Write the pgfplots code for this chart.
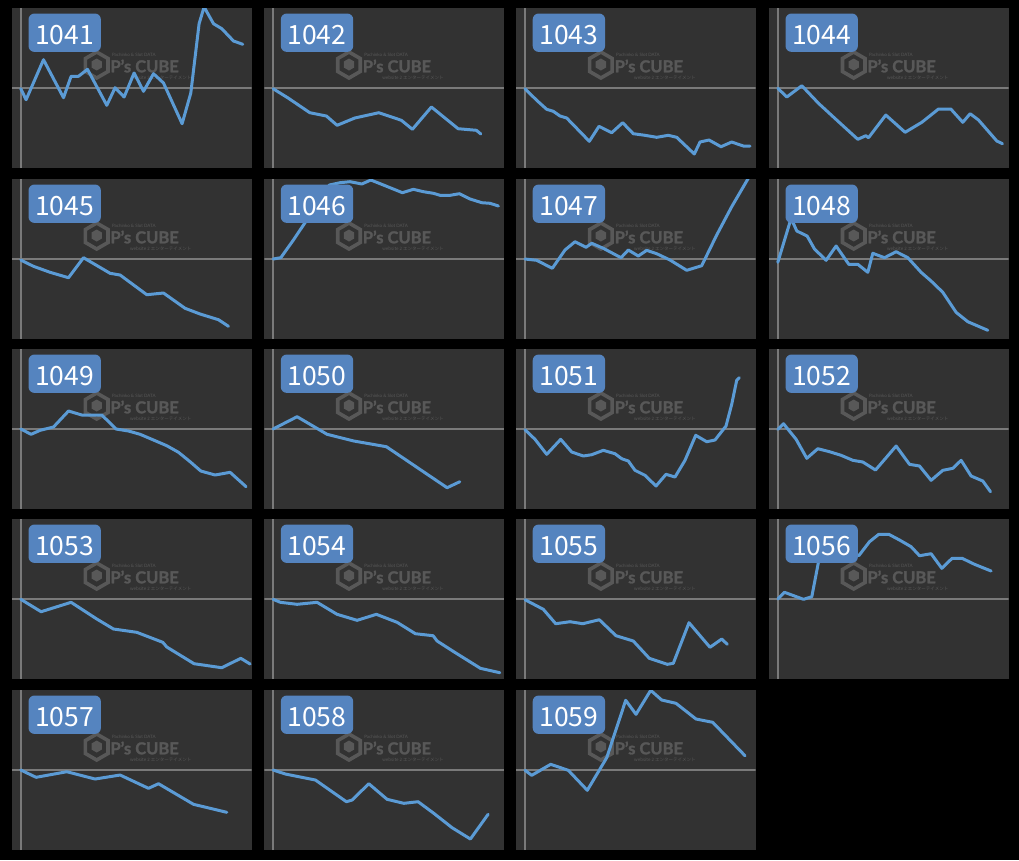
\documentclass[border=0pt]{standalone}
\usepackage{fontspec}
\usepackage{pgfplots}
\pgfplotsset{compat=1.18}
\usetikzlibrary{shapes.geometric}
\newfontfamily\badgefont{Noto Sans CJK JP}
\newfontfamily\wmfont{Lato}
\newfontfamily\wmheavy{Lato}[FakeBold=1.6]
\definecolor{panelbg}{HTML}{323232}
\definecolor{basecol}{HTML}{7A7A7A}
\definecolor{linecol}{HTML}{5B9BD5}
\definecolor{badgecol}{HTML}{5584BF}
\definecolor{wmcol}{HTML}{585858}
\newcommand{\panel}[4]{%
\begin{axis}[at={(#1pt,-#2pt)},anchor=north west,
  width=239.5pt,height=160pt,scale only axis,
  xmin=-8.8,xmax=230.7,ymin=-80,ymax=80,
  axis line style={draw=none},ticks=none,
  axis background/.style={fill=panelbg},clip=true]
\draw[basecol,line width=1.6pt] (axis cs:-8.8,0) -- (axis cs:230.7,0);
\draw[basecol,line width=1.6pt] (axis cs:0,-80) -- (axis cs:0,80);
\node[regular polygon,regular polygon sides=6,shape border rotate=30,draw=wmcol,line width=3.6pt,minimum size=26pt,inner sep=0pt] at (axis cs:75.9,23) {};
\node[regular polygon,regular polygon sides=6,shape border rotate=30,fill=wmcol,minimum size=12pt,inner sep=0pt] at (axis cs:75.9,23.5) {};
\node[anchor=west,inner sep=0pt,text=wmcol] at (axis cs:89.5,22) {\wmheavy\bfseries\fontsize{16.5}{16.5}\selectfont P’s CUBE};
\node[anchor=west,inner sep=0pt,text=wmcol] at (axis cs:91,33) {\wmfont\fontsize{4.5}{4.5}\selectfont Pachinko \& Slot DATA};
\node[anchor=west,inner sep=0pt,text=wmcol] at (axis cs:109,10.7) {\badgefont\fontsize{4.5}{4.5}\selectfont website 2 エンターテイメント};
\addplot[linecol,line width=3pt,line join=round,line cap=round] coordinates {#4};
\node[fill=badgecol,rounded corners=6pt,minimum width=72.4pt,minimum height=38.4pt,inner sep=0pt,anchor=north west] at (axis cs:7.5,74.7) {};
\node[text=white,inner sep=0pt] at (axis cs:43.7,53.2) {\badgefont\fontsize{26.5}{26.5}\selectfont #3};
\end{axis}}
\begin{document}
\begin{tikzpicture}
\fill[black] (0pt,0pt) rectangle (1019pt,-860pt);
% row 1
\panel{12}{8}{1041}{(0,-0.7) (5.3,-11.7) (22.7,28.3) (42.7,-9.7) (50.3,11.7) (57.7,11.7) (66.7,18.7) (86,-17.3) (94.3,0.3) (103.3,-9) (113.3,15) (122.7,-3.3) (132.7,14.3) (142.7,5) (161.3,-35.7) (170,-5) (178.3,64.3) (183.3,81) (192.7,64.3) (201,59.3) (212.7,47) (222,43.7)}
\panel{264.3}{8}{1042}{(0,-0.7) (15,-10) (36.7,-24.7) (53.3,-28) (64,-37.3) (81.7,-30) (105.7,-24.7) (128.3,-32.3) (139.3,-41.3) (158.3,-19) (185,-40.7) (203.3,-42.3) (207.7,-46)}
\panel{516.2}{8}{1043}{(0,-0.7) (11.7,-12.3) (21.7,-21.3) (28.3,-23.3) (35,-28) (41.7,-30) (64.3,-53.3) (74,-38.3) (86.7,-44.7) (97.7,-34.7) (108.3,-45.7) (120,-47.3) (131.7,-49.3) (143.3,-47.3) (151.7,-49.3) (169.3,-66) (175,-54) (184,-52) (196,-58.7) (206.7,-54) (218.3,-58) (225,-58)}
\panel{769}{8}{1044}{(0,-0.3) (9,-9) (24,2.3) (40.7,-15.3) (60.7,-33.7) (80,-51.3) (88,-47.7) (90.7,-49.7) (108,-27) (127.3,-44.3) (144,-34.3) (160.7,-21) (173,-21) (185,-34.3) (192.3,-25.7) (200.7,-32) (219,-53) (224.7,-55.7)}
% row 2
\panel{12}{179}{1045}{(0,-1) (12.7,-7.3) (29.3,-13.3) (47.7,-18.7) (62.7,1.3) (89.3,-14.3) (99.3,-16) (126,-35.7) (142.7,-34) (164.3,-49.3) (179.3,-55) (197.7,-60.7) (207.7,-67.3)}
\panel{264.3}{179}{1046}{(0,0) (7.7,1.3) (20.3,19) (33.7,39) (47,57.3) (56.3,74) (67,76.3) (77,77.3) (88.7,75) (97.7,79) (110.3,74) (129.3,66.3) (140.3,69.7) (150.3,67.3) (160.3,65.7) (167,63.7) (177,63.7) (186.3,65.3) (197,60) (208.7,56.3) (217,55.7) (225.3,53)}
\panel{516.2}{179}{1047}{(0,0) (11.7,-1.3) (27.3,-9.3) (40,9) (50,17.3) (61,11.7) (66.7,15.7) (78.3,10.7) (96,1.3) (103.3,9) (113.3,3) (121.7,8.7) (131.7,5.3) (145,-1) (161.7,-11.3) (176.7,-6.7) (191.7,24) (206.7,52.3) (221.7,78) (224,82)}
\panel{769}{179}{1048}{(0,-3.3) (13.3,40.7) (19,28) (29.3,23) (36.7,10) (48.3,-1.3) (58.3,13) (71,-5.3) (80,-5.3) (90,-13.3) (95,5.7) (106.7,1.3) (118.3,7.3) (130,1.3) (143.3,-13.3) (153.3,-22) (165,-33.3) (178.3,-53.3) (190,-62.7) (210,-71.3)}
% row 3
\panel{12}{349}{1049}{(0,0) (10.3,-5.3) (19.3,-1.3) (32.7,2) (47.7,18) (61,14) (69.3,14) (81,14) (95.3,0) (107.7,-2) (119.3,-5.3) (132.7,-11) (146,-16.7) (157.7,-23.3) (169.3,-32.7) (180,-42) (194.3,-46) (209.3,-43.3) (225.3,-57.7)}
\panel{264.3}{349}{1050}{(0,0) (24,12.3) (54,-5.3) (80.7,-12) (113.3,-17.7) (174,-58.7) (186.7,-52.7)}
\panel{516.2}{349}{1051}{(0,-0.7) (10,-10.3) (21.7,-25.3) (35.7,-10.3) (46.7,-23) (58.3,-27) (66.7,-25.7) (78.3,-21.3) (90,-24.7) (96.7,-29.7) (103.3,-32) (110,-41.3) (120,-46.3) (131,-57) (141,-45.3) (150,-48) (160,-31.3) (170.7,-6.3) (181.7,-12.7) (190,-11) (201,3) (206.7,24.7) (211.7,48.7) (214.3,51.3)}
\panel{769}{349}{1052}{(0,-0.3) (5.7,5.3) (18.3,-10.3) (29,-29.3) (40,-19.7) (51.7,-22.7) (63.3,-26.3) (75,-31.3) (85,-33) (97.7,-41) (108.3,-28.7) (118.3,-17) (131.7,-35.3) (141.7,-37) (153.3,-51.3) (165,-41.3) (175,-39.3) (183.3,-31.3) (193.3,-47) (205,-52) (212.7,-62.7)}
% row 4
\panel{12}{519}{1053}{(0,-0.3) (20.3,-12.7) (50.3,-3.3) (76,-20) (92.7,-30) (116,-33.3) (142,-43.3) (146,-48) (173.3,-64.7) (201,-68.7) (220,-59.3) (229.3,-65)}
\panel{264.3}{519}{1054}{(0,-0.3) (7.3,-3.3) (24,-5.3) (44,-3.3) (64,-15.3) (84,-21.3) (103.3,-15.3) (124,-23.3) (142.3,-34.7) (160,-36.7) (164,-42) (180.7,-52.7) (207.3,-69.3) (226.7,-73.7)}
\panel{516.2}{519}{1055}{(0,-0.7) (18.3,-10.3) (30.7,-24.7) (45,-22.7) (57.7,-24.7) (74.3,-20.7) (91,-36.7) (108.3,-42) (124.3,-59.3) (142.3,-65.3) (148.3,-64.3) (164,-23.7) (185,-48.3) (196.7,-40) (202.3,-45.3)}
\panel{769}{519}{1056}{(0,0) (6.7,6.7) (25.7,-0.3) (34,2.3) (43.3,50.7) (53.3,54.7) (65,52.3) (81,43.3) (91.7,57.3) (101,64.7) (111,64.7) (121.7,59) (133.3,52.3) (141.7,43.3) (153.3,45.3) (164,30.7) (174.3,40.7) (184.3,40.7) (196.7,34.7) (213.3,28)}
% row 5
\panel{12}{690}{1057}{(0,0) (15.3,-7.3) (46,-1.7) (74.3,-9) (99.3,-5) (127.7,-18.3) (137.7,-13.7) (172.7,-34.3) (206,-42.3)}
\panel{264.3}{690}{1058}{(0,0) (12.3,-4) (42.3,-10) (73.3,-31.7) (79,-30) (95.7,-13.7) (114,-29.3) (130.7,-33.3) (145,-31.7) (160.7,-43.3) (179,-57.7) (197.3,-69) (215,-44.3)}
\panel{516.2}{690}{1059}{(0,-0.3) (6.7,-5.3) (25.7,5.7) (43.3,-0.3) (62.3,-20.3) (81.7,12.3) (100.7,69.7) (111,55.7) (125.7,79.7) (136.7,70) (151,66.7) (171,51) (187.7,47.7) (220,14.3)}
\end{tikzpicture}
\end{document}
